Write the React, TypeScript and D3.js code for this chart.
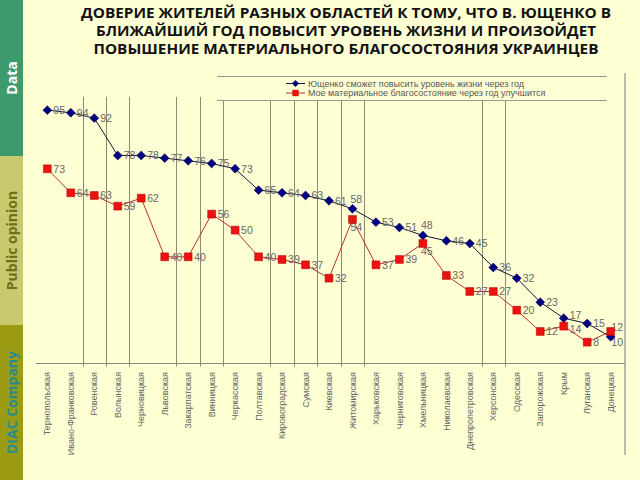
import React from 'react';
import * as d3 from 'd3';

// regions, ordered as on the slide
const regions = [
  'Тернопольская', 'Ивано-Франковская', 'Ровенская', 'Волынская', 'Черновицкая',
  'Львовская', 'Закарпатская', 'Винницкая', 'Черкасская', 'Полтавская',
  'Кировоградская', 'Сумская', 'Киевская', 'Житомирская', 'Харьковская',
  'Черниговская', 'Хмельницкая', 'Николаевская', 'Днепропетровская', 'Херсонская',
  'Одесская', 'Запорожская', 'Крым', 'Луганская', 'Донецкая',
];

// % who trust Yushchenko will raise living standards within a year
const trustYushchenko = [95, 94, 92, 78, 78, 77, 76, 75, 73, 65, 64, 63, 61, 58, 53, 51, 48, 46, 45, 36, 32, 23, 17, 15, 10];
// % who expect own material welfare to improve within a year
const ownWelfare = [73, 64, 63, 59, 62, 40, 40, 56, 50, 40, 39, 37, 32, 54, 37, 39, 45, 33, 27, 27, 20, 12, 14, 8, 12];

const seriesNames = [
  'Ющенко сможет повысить уровень жизни через год',
  'Мое материальное благосостояние через год улучшится',
];

// the slide has vertical rules after some of the regions only
const dividerAfter = [
  'Ивано-Франковская', 'Ровенская', 'Волынская', 'Львовская', 'Закарпатская', 'Винницкая',
  'Полтавская', 'Кировоградская', 'Сумская', 'Киевская', 'Житомирская',
  'Днепропетровская', 'Херсонская',
];

const titleLines = [
  'ДОВЕРИЕ ЖИТЕЛЕЙ РАЗНЫХ ОБЛАСТЕЙ К ТОМУ, ЧТО В. ЮЩЕНКО В',
  'БЛИЖАЙШИЙ ГОД ПОВЫСИТ УРОВЕНЬ ЖИЗНИ И ПРОИЗОЙДЕТ',
  'ПОВЫШЕНИЕ МАТЕРИАЛЬНОГО БЛАГОСОСТОЯНИЯ УКРАИНЦЕВ',
];
const titleWidths = [530, 500, 505];

const sideTabs = [
  { text: 'Data', y0: 0, y1: 156, bg: '#3c9a6c', fg: '#ffffff' },
  { text: 'Public opinion', y0: 156, y1: 325, bg: '#c9c96e', fg: '#707018' },
  { text: 'DIAC Company', y0: 325, y1: 480, bg: '#9b9b14', fg: '#2a8c8a' },
];

// label placement tweaks (series index - point index)
const labelPlace: Record<string, string> = {
  '0-13': 'above', '0-16': 'above', '1-13': 'below', '1-16': 'below',
  '0-22': 'up', '1-22': 'down',
  '0-24': 'leftdown', '1-24': 'leftup',
};

const BG = '#ffffd4';
const plot = { left: 35.6, right: 622.4, top: 96.8, bottom: 363.5 };

export default function App() {
  const x = d3.scaleBand().domain(regions).range([plot.left, plot.right]);
  const cx = (r: string) => (x(r) as number) + x.bandwidth() / 2;
  const y = d3.scaleLinear().domain([0, 100]).range([plot.bottom, plot.top]);

  const series = [
    { values: trustYushchenko, line: '#14143c', fill: '#000080', stroke: '#000060', shape: 'diamond' },
    { values: ownWelfare, line: '#b83232', fill: '#ee1111', stroke: '#aa0000', shape: 'square' },
  ];

  const lineGen = d3.line<number>()
    .x((_, i) => cx(regions[i]))
    .y((d) => y(d));

  const diamond = d3.symbol(d3.symbolSquare, 40)() as string;
  const square = d3.symbol(d3.symbolSquare, 62)() as string;

  const labelFont = "'Liberation Sans', Arial, sans-serif";

  return (
    <svg width={640} height={480} style={{ position: 'absolute', left: 0, top: 0 }}>
      <defs>
        <linearGradient id="sep" x1="0" x2="1" y1="0" y2="0">
          <stop offset="0" stopColor="#a8a848" stopOpacity={0} />
          <stop offset="0.12" stopColor="#a8a848" stopOpacity={1} />
          <stop offset="1" stopColor="#a8a848" stopOpacity={1} />
        </linearGradient>
      </defs>
      <rect width={640} height={480} fill={BG} />

      {/* side tabs */}
      {sideTabs.map((t) => (
        <g key={t.text}>
          <rect x={0} y={t.y0} width={23} height={t.y1 - t.y0} fill={t.bg} />
          <text
            transform={`translate(12,${(t.y0 + t.y1) / 2}) rotate(-90)`}
            textAnchor="middle" dy="0.36em"
            fontFamily="'Open Sans', 'DejaVu Sans', sans-serif" fontWeight={700} fontSize={14}
            fill={t.fg}
          >{t.text}</text>
        </g>
      ))}

      {/* title */}
      {titleLines.map((l, i) => (
        <text key={i} x={346} y={17.5 + i * 18} textAnchor="middle"
          textLength={titleWidths[i]} lengthAdjust="spacingAndGlyphs"
          fontFamily="'Open Sans', 'DejaVu Sans', sans-serif" fontWeight={700} fontSize={14.5} fill="#111">
          {l}
        </text>
      ))}
      <line x1={40} x2={628} y1={63} y2={63} stroke="url(#sep)" strokeWidth={2} />

      {/* frame */}
      <line x1={625} x2={625} y1={73} y2={455} stroke="#777" />
      <line x1={plot.left} x2={625} y1={plot.bottom} y2={plot.bottom} stroke="#888" />
      {dividerAfter.map((r) => {
        const xx = Math.round((x(r) as number) + x.bandwidth()) + 0.5;
        return <line key={r} x1={xx} x2={xx} y1={plot.top} y2={plot.bottom + 3} stroke="#8a8a70" />;
      })}

      {/* legend */}
      <rect x={217} y={76} width={390} height={25} fill={BG} />
      <line x1={217} x2={607} y1={76.5} y2={76.5} stroke="#999" />
      <line x1={217} x2={607} y1={100.5} y2={100.5} stroke="#999" />
      {series.map((s, i) => {
        const ly = 83.5 + i * 9.5;
        return (
          <g key={i}>
            <line x1={286} x2={305} y1={ly} y2={ly} stroke={s.line} />
            <path d={s.shape === 'diamond' ? diamond : square}
              transform={`translate(295.5,${ly}) scale(0.75) rotate(${s.shape === 'diamond' ? 45 : 0})`}
              fill={s.fill} stroke={s.stroke} strokeWidth={0.5} />
            <text x={308} y={ly} dy="0.35em" fontFamily={labelFont} fontSize={9} fill="#555">
              {seriesNames[i]}
            </text>
          </g>
        );
      })}

      {/* category labels */}
      {regions.map((r) => (
        <text key={r} transform={`translate(${cx(r)},372) rotate(-90)`} textAnchor="end" dy="0.35em"
          fontFamily={labelFont} fontSize={9} fill="#666">{r}</text>
      ))}

      {/* series */}
      {series.map((s, si) => (
        <g key={si}>
          <path d={lineGen(s.values) as string} fill="none" stroke={s.line} strokeWidth={1} />
          {s.values.map((v, i) => {
            const px = cx(regions[i]);
            const py = y(v);
            const place = labelPlace[`${si}-${i}`];
            let tx = px + 6, ty = py, anchor = 'start', dy = '0.38em';
            if (place === 'above') { tx = px - 2; ty = py - 6; dy = '0'; }
            if (place === 'below') { tx = px - 2; ty = py + 12; dy = '0'; }
            if (place === 'up') { ty = py - 3; }
            if (place === 'down') { ty = py + 3; }
            if (place === 'leftup') { tx = 623; anchor = 'end'; ty = py - 4; }
            if (place === 'leftdown') { tx = 623; anchor = 'end'; ty = py + 5; }
            return (
              <text key={i} x={tx} y={ty} dy={dy} textAnchor={anchor}
                fontFamily={labelFont} fontSize={10.5} fill="#666">{v}</text>
            );
          })}
          {s.values.map((v, i) => (
            <path key={i} d={s.shape === 'diamond' ? diamond : square}
              transform={`translate(${cx(regions[i])},${y(v)}) rotate(${s.shape === 'diamond' ? 45 : 0})`}
              fill={s.fill} stroke={s.stroke} strokeWidth={0.5} />
          ))}
        </g>
      ))}
    </svg>
  );
}
